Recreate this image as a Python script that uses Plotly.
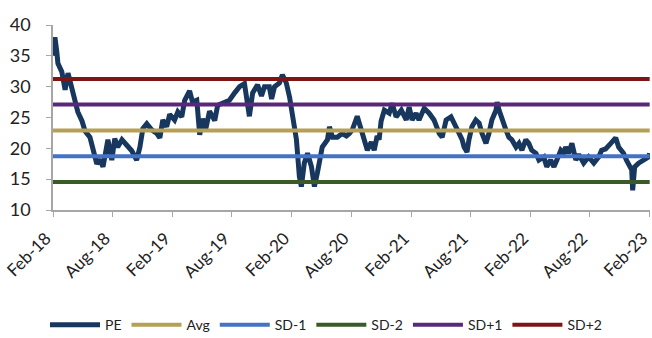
import plotly.graph_objects as go

# PE series
pe_dates = [
    "2018-02-01", "2018-02-04", "2018-02-07", "2018-02-13", "2018-02-16", "2018-02-28", "2018-03-10",
    "2018-03-19", "2018-03-31", "2018-04-09", "2018-04-18", "2018-05-01", "2018-05-10", "2018-05-25",
    "2018-06-03", "2018-06-15", "2018-06-24", "2018-07-04", "2018-07-16", "2018-07-19", "2018-07-31",
    "2018-08-09", "2018-08-18", "2018-08-31", "2018-09-15", "2018-09-30", "2018-10-15", "2018-10-25",
    "2018-11-03", "2018-11-15", "2018-11-30", "2018-12-16", "2018-12-25", "2019-01-03", "2019-01-15",
    "2019-01-24", "2019-02-08", "2019-02-18", "2019-03-02", "2019-03-11", "2019-03-26", "2019-04-04",
    "2019-04-17", "2019-04-26", "2019-05-05", "2019-05-14", "2019-05-26", "2019-06-11", "2019-06-20",
    "2019-07-02", "2019-07-26", "2019-08-11", "2019-08-26", "2019-09-10", "2019-09-19", "2019-09-25",
    "2019-10-05", "2019-10-20", "2019-11-01", "2019-11-10", "2019-11-25", "2019-12-02", "2019-12-11",
    "2019-12-26", "2020-01-04", "2020-01-16", "2020-01-26", "2020-02-04", "2020-02-16", "2020-02-25",
    "2020-03-02", "2020-03-11", "2020-03-21", "2020-04-02", "2020-04-11", "2020-04-20", "2020-04-26",
    "2020-05-05", "2020-05-21", "2020-05-27", "2020-06-05", "2020-06-20", "2020-07-05", "2020-07-18",
    "2020-07-27", "2020-08-05", "2020-08-20", "2020-09-01", "2020-09-11", "2020-09-20", "2020-10-02",
    "2020-10-11", "2020-10-20", "2020-10-26", "2020-11-01", "2020-11-11", "2020-11-26", "2020-12-05",
    "2020-12-17", "2021-01-02", "2021-01-17", "2021-01-26", "2021-02-04", "2021-02-16", "2021-02-25",
    "2021-03-13", "2021-03-28", "2021-04-12", "2021-04-28", "2021-05-07", "2021-05-19", "2021-06-03",
    "2021-06-18", "2021-06-28", "2021-07-07", "2021-07-13", "2021-07-22", "2021-07-28", "2021-08-06",
    "2021-08-18", "2021-08-28", "2021-09-06", "2021-09-18", "2021-09-27", "2021-10-06", "2021-10-19",
    "2021-10-22", "2021-10-28", "2021-11-06", "2021-11-18", "2021-11-27", "2021-12-06", "2021-12-19",
    "2021-12-28", "2022-01-06", "2022-01-18", "2022-01-27", "2022-02-05", "2022-02-18", "2022-02-27",
    "2022-03-14", "2022-03-23", "2022-04-04", "2022-04-14", "2022-04-23", "2022-05-05", "2022-05-14",
    "2022-05-20", "2022-05-29", "2022-06-08", "2022-06-20", "2022-06-29", "2022-07-14", "2022-07-29",
    "2022-08-14", "2022-08-29", "2022-09-07", "2022-09-19", "2022-10-05", "2022-10-20", "2022-10-29",
    "2022-11-13", "2022-11-22", "2022-11-28", "2022-12-08", "2022-12-11", "2022-12-17", "2022-12-29",
    "2023-01-13", "2023-01-29", "2023-02-01",
]
pe_values = [
    35.0, 37.6, 38.0, 35.5, 33.8, 32.4, 29.5,
    32.2, 29.8, 27.5, 25.9, 24.4, 22.8, 21.8,
    20.2, 17.5, 18.2, 17.0, 20.5, 21.4, 18.1,
    21.6, 20.2, 21.4, 20.5, 19.6, 18.1, 20.2,
    23.2, 24.0, 23.0, 22.4, 21.7, 24.6, 23.5,
    25.5, 24.6, 25.9, 25.1, 27.8, 29.3, 27.5,
    27.8, 22.2, 24.8, 23.0, 26.0, 24.5, 27.0,
    27.3, 27.8, 29.0, 30.0, 30.5, 27.8, 25.2,
    29.0, 30.3, 28.5, 30.0, 30.0, 28.0, 30.0,
    30.6, 31.9, 30.6, 28.3, 25.5, 21.4, 15.4,
    13.8, 17.6, 19.2, 17.0, 13.8, 16.0, 17.6,
    20.2, 21.4, 23.5, 21.8, 21.8, 22.4, 22.0,
    22.4, 23.0, 25.2, 23.0, 21.4, 19.7, 21.0,
    19.7, 22.0, 21.4, 24.4, 26.2, 25.7, 27.3,
    25.1, 26.2, 24.6, 26.7, 24.6, 25.7, 24.6,
    26.5, 25.7, 24.6, 22.4, 21.8, 24.6, 25.1,
    23.5, 22.4, 21.4, 20.2, 19.4, 21.4, 23.5,
    24.6, 24.1, 22.4, 20.8, 22.4, 24.6, 26.2,
    27.5, 26.2, 24.6, 23.0, 21.8, 21.4, 20.2,
    20.8, 19.7, 21.4, 20.8, 19.7, 19.2, 18.1,
    18.6, 17.0, 18.1, 17.0, 18.1, 19.7, 19.2,
    20.2, 19.2, 20.8, 18.1, 19.0, 17.6, 18.6,
    17.6, 18.6, 19.7, 19.9, 20.8, 21.7, 20.2,
    19.2, 18.1, 17.6, 16.5, 13.2, 17.0, 17.6,
    18.1, 18.6, 19.2,
]

# Band levels
band_names = ["Avg", "SD-1", "SD-2", "SD+1", "SD+2"]
band_values = [22.9, 18.7, 14.55, 27.1, 31.25]
band_colors = ["#B5A055", "#4472C4", "#3A5A27", "#5A2878", "#7E1515"]
band_span = ["2018-02-01", "2023-02-01"]

tick_dates = ["2018-02-01", "2018-08-01", "2019-02-01", "2019-08-01", "2020-02-01", "2020-08-01",
              "2021-02-01", "2021-08-01", "2022-02-01", "2022-08-01", "2023-02-01"]
tick_labels = ["Feb-18", "Aug-18", "Feb-19", "Aug-19", "Feb-20", "Aug-20",
               "Feb-21", "Aug-21", "Feb-22", "Aug-22", "Feb-23"]

fig = go.Figure()
fig.add_trace(go.Scatter(x=pe_dates, y=pe_values, mode="lines", name="PE",
                         line=dict(color="#17375E", width=5)))
for nm, val, col in zip(band_names, band_values, band_colors):
    fig.add_trace(go.Scatter(x=band_span, y=[val, val], mode="lines", name=nm,
                             line=dict(color=col, width=4)))

font_family = "Lato, 'Open Sans', sans-serif"
fig.update_layout(
    width=652, height=338,
    margin=dict(l=53, r=2, t=25, b=128, autoexpand=False),
    paper_bgcolor="white", plot_bgcolor="white",
    font=dict(family=font_family, size=15, color="#222222"),
    showlegend=True,
    legend=dict(orientation="h", x=0.5, xref="container", xanchor="center",
                y=0.038, yref="container", yanchor="middle",
                font=dict(size=14, color="#222222"), itemwidth=50, traceorder="normal"),
    xaxis=dict(type="date", range=["2018-02-01", "2023-02-02"], tickvals=tick_dates,
               ticktext=tick_labels, tickangle=-45, showgrid=False, showline=True,
               linecolor="#A6A6A6", linewidth=1.5, ticks="outside", tickcolor="#A6A6A6",
               ticklen=5, zeroline=False, tickfont=dict(size=17), ticklabelstandoff=5,
               ticklabeloverflow="allow", ticklabelshift=-7),
    yaxis=dict(range=[10, 40], tickvals=[10, 15, 20, 25, 30, 35, 40], showgrid=False,
               showline=True, linecolor="#A6A6A6", linewidth=1.5, ticks="outside",
               tickcolor="#A6A6A6", ticklen=5, zeroline=False, tickfont=dict(size=18),
               ticklabelstandoff=12),
)

fig.write_html("out.html", config={"displayModeBar": False},
               post_script="document.body.style.margin='0';document.body.style.overflow='hidden';")
